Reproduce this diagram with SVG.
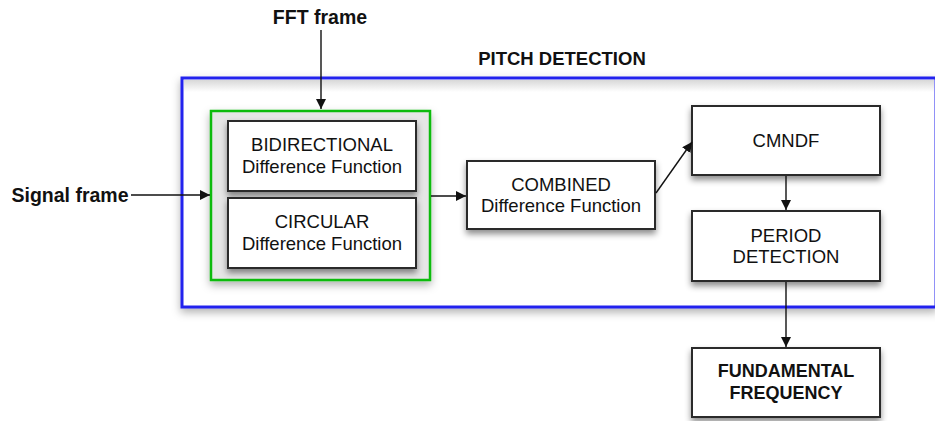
<svg xmlns="http://www.w3.org/2000/svg" width="935" height="421" viewBox="0 0 935 421">
<style>
  .lbl{font-family:"Liberation Sans",Arial,sans-serif;font-size:18.5px;fill:#111;text-anchor:middle}
  .bold{font-weight:bold}
  .box{fill:#fff;stroke:#2a2a2a;stroke-width:2;filter:url(#sh)}
  .conn{stroke:#111;stroke-width:1.4;fill:none;marker-end:url(#ah)}
</style>
<defs>
  <filter id="sh" x="-20%" y="-20%" width="140%" height="160%">
    <feDropShadow dx="0" dy="4" stdDeviation="3" flood-color="#000" flood-opacity="0.45"/>
  </filter>
  <filter id="shl" x="-10%" y="-10%" width="120%" height="130%">
    <feDropShadow dx="0" dy="4" stdDeviation="4" flood-color="#000" flood-opacity="0.3"/>
  </filter>
  <marker id="ah" viewBox="0 0 10 10" refX="10" refY="5" markerWidth="10" markerHeight="10" markerUnits="userSpaceOnUse" orient="auto">
    <path d="M0,0 L10,5 L0,10 z" fill="#111"/>
  </marker>
  <linearGradient id="topg" x1="0" y1="0" x2="0" y2="1">
    <stop offset="0" stop-color="#d8d8d8"/>
    <stop offset="1" stop-color="#ffffff"/>
  </linearGradient>
</defs>
<rect width="935" height="421" fill="#fff"/>

<g id="pitch-detection">
  <rect x="182" y="78" width="754" height="229" fill="#fff" stroke="#2222ee" stroke-width="3" filter="url(#shl)"/>
  <rect x="184" y="80" width="750" height="12" fill="url(#topg)"/>
  <text class="lbl bold" x="562" y="65">PITCH DETECTION</text>
</g>

<g id="difference-group">
  <rect x="211" y="111" width="219" height="169" fill="#e6e6e6" stroke="#11bb11" stroke-width="2.5" filter="url(#shl)"/>
</g>

<g id="bidirectional">
  <rect class="box" x="228" y="121" width="188" height="70"/>
  <text class="lbl" x="322" y="151">BIDIRECTIONAL</text>
  <text class="lbl" x="322" y="173">Difference Function</text>
</g>

<g id="circular">
  <rect class="box" x="228" y="198" width="188" height="70"/>
  <text class="lbl" x="322" y="228">CIRCULAR</text>
  <text class="lbl" x="322" y="250">Difference Function</text>
</g>

<g id="combined">
  <rect class="box" x="467" y="161" width="188" height="68"/>
  <text class="lbl" x="561" y="191">COMBINED</text>
  <text class="lbl" x="561" y="212">Difference Function</text>
</g>

<g id="cmndf">
  <rect class="box" x="692" y="106" width="188" height="69"/>
  <text class="lbl" x="786" y="147">CMNDF</text>
</g>

<g id="period-detection">
  <rect class="box" x="692" y="211" width="188" height="70"/>
  <text class="lbl" x="786" y="242">PERIOD</text>
  <text class="lbl" x="786" y="263">DETECTION</text>
</g>

<g id="fundamental-frequency">
  <rect class="box" x="692" y="348" width="188" height="69"/>
  <text class="lbl bold" x="786" y="377" style="font-size:18px">FUNDAMENTAL</text>
  <text class="lbl bold" x="786" y="399" style="font-size:18px">FREQUENCY</text>
</g>

<g id="fft-frame">
  <text class="lbl bold" x="320" y="24" style="font-size:19.5px">FFT frame</text>
</g>

<g id="signal-frame">
  <text class="lbl bold" x="70" y="202" style="font-size:19.5px">Signal frame</text>
</g>

<g id="connectors">
  <line class="conn" x1="321" y1="30" x2="321" y2="109"/>
  <line class="conn" x1="131" y1="195" x2="210" y2="195"/>
  <line class="conn" x1="431" y1="196" x2="466" y2="196"/>
  <line class="conn" x1="656" y1="193" x2="692" y2="142"/>
  <line class="conn" x1="786" y1="176" x2="786" y2="210"/>
  <line class="conn" x1="786" y1="282" x2="786" y2="347"/>
</g>
</svg>
